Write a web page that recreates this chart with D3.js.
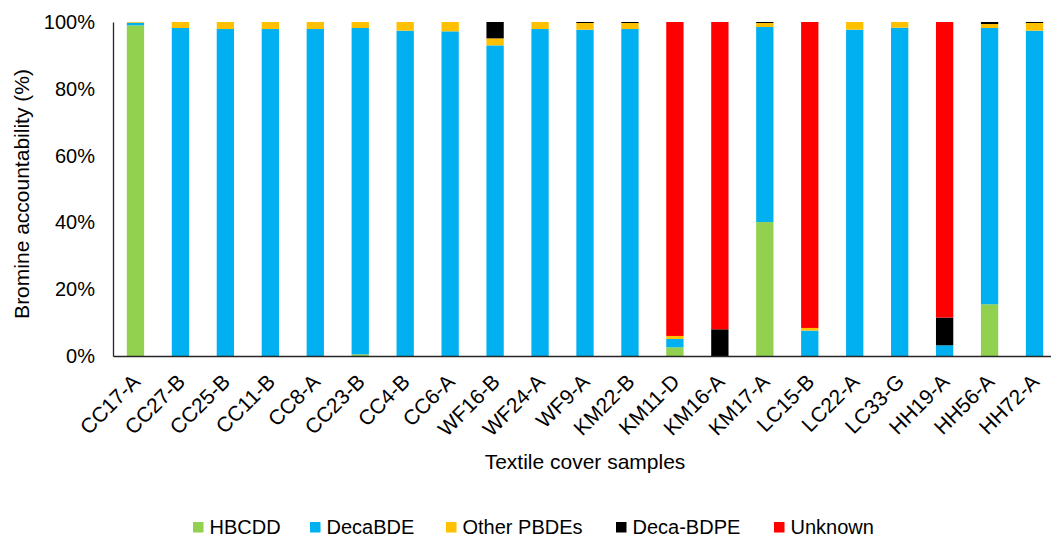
<!DOCTYPE html>
<html>
<head>
<meta charset="utf-8">
<script src="https://cdn.jsdelivr.net/npm/d3@7"></script>
<style>
  body { margin: 0; background: #fff; }
  text { font-family: "Liberation Sans", Arial, sans-serif; fill: #000; }
</style>
</head>
<body>
<div id="graf"></div>
<script>
// Datos (% de bromo)
const muestras = ["CC17-A", "CC27-B", "CC25-B", "CC11-B", "CC8-A", "CC23-B", "CC4-B", "CC6-A",
  "WF16-B", "WF24-A", "WF9-A", "KM22-B", "KM11-D", "KM16-A", "KM17-A", "LC15-B",
  "LC22-A", "LC33-G", "HH19-A", "HH56-A", "HH72-A"]
const hbcdd     = [99.0, 0, 0, 0, 0, 0.5, 0, 0, 0, 0, 0, 0, 2.6, 0, 40.1, 0, 0, 0, 0, 15.5, 0]
const decaBDE   = [0.8, 98.2, 97.9, 97.9, 97.9, 97.7, 97.4, 97.2, 93.0, 97.9, 97.7, 97.9, 2.5, 0, 58.4, 7.6, 97.7, 98.3, 3.2, 82.7, 97.4]
const otherPBDE = [0.2, 1.8, 2.1, 2.1, 2.1, 1.8, 2.6, 2.8, 2.1, 2.1, 2.0, 1.8, 0.9, 0, 1.2, 0.8, 2.3, 1.7, 0, 1.2, 2.3]
const decaBDPE  = [0, 0, 0, 0, 0, 0, 0, 0, 4.9, 0, 0.3, 0.3, 0, 8.0, 0.3, 0, 0, 0, 8.3, 0.6, 0.3]
const unknown   = [0, 0, 0, 0, 0, 0, 0, 0, 0, 0, 0, 0, 94.0, 92.0, 0, 91.6, 0, 0, 88.5, 0, 0]
const series = ["HBCDD", "DecaBDE", "Other PBDEs", "Deca-BDPE", "Unknown"]
const yTicks = [0, 0.2, 0.4, 0.6, 0.8, 1]

const data = muestras.map((m, i) => ({
  muestra: m,
  "HBCDD": hbcdd[i],
  "DecaBDE": decaBDE[i],
  "Other PBDEs": otherPBDE[i],
  "Deca-BDPE": decaBDPE[i],
  "Unknown": unknown[i],
}))

// Dimensiones
const anchoTotal = 1051
const altoTotal = 537
const margins = { top: 22, right: -6, bottom: 181, left: 113 }
const ancho = anchoTotal - margins.left - margins.right
const alto = altoTotal - margins.top - margins.bottom

const svg = d3.select("#graf").append("svg")
  .attr("width", anchoTotal)
  .attr("height", altoTotal)

const g = svg.append("g")
  .attr("transform", `translate(${margins.left}, ${margins.top})`)

// Escaladores
const x = d3.scaleBand()
  .domain(muestras)
  .range([0, ancho])
  .paddingInner(0.615)
  .paddingOuter(0.3075)

const y = d3.scaleLinear()
  .domain([0, 1])
  .range([alto, 0])

const color = d3.scaleOrdinal()
  .domain(series)
  .range(["#92D050", "#00B0F0", "#FFC000", "#000000", "#FF0000"])

const stack = d3.stack().keys(series)
  .value((d, k) => d[k] / 100)
const capas = stack(data)

// Barras
g.selectAll("g.capa")
  .data(capas)
  .enter()
  .append("g")
  .attr("class", "capa")
  .attr("fill", d => color(d.key))
  .selectAll("rect")
  .data(d => d)
  .enter()
  .append("rect")
  .attr("x", d => x(d.data.muestra))
  .attr("y", d => y(d[1]))
  .attr("width", x.bandwidth())
  .attr("height", d => y(d[0]) - y(d[1]))

// Eje y
const yAxis = d3.axisLeft(y)
  .tickValues(yTicks)
  .tickFormat(d3.format(".0%"))
  .tickSize(0)
  .tickPadding(18)
const yAxisGroup = g.append("g").call(yAxis)
yAxisGroup.select(".domain").attr("stroke", "#262626").attr("stroke-width", 1.3)
yAxisGroup.selectAll("text").style("font-size", "20px").attr("fill", "#000")

// Eje x
const xAxis = d3.axisBottom(x).tickSize(0).tickFormat("")
const xAxisGroup = g.append("g")
  .attr("transform", `translate(0, ${alto})`)
  .call(xAxis)
xAxisGroup.select(".domain").attr("stroke", "#262626").attr("stroke-width", 1.6)

g.selectAll("text.xlabel")
  .data(muestras)
  .enter()
  .append("text")
  .attr("class", "xlabel")
  .attr("text-anchor", "end")
  .attr("transform", d => `translate(${x(d) + x.bandwidth() / 2 + 6}, ${alto + 27}) rotate(-45)`)
  .style("font-size", "21px")
  .text(d => d)

// Titulos de ejes
svg.append("text")
  .attr("transform", `translate(29, ${margins.top + alto / 2 + 5}) rotate(-90)`)
  .attr("text-anchor", "middle")
  .style("font-size", "21px")
  .text("Bromine accountability (%)")

svg.append("text")
  .attr("x", 585)
  .attr("y", 469)
  .attr("text-anchor", "middle")
  .style("font-size", "21px")
  .text("Textile cover samples")

// Leyenda
const leyendaX = [193, 310, 446, 616, 774]
const leyenda = svg.selectAll("g.leyenda")
  .data(series)
  .enter()
  .append("g")
  .attr("class", "leyenda")
  .attr("transform", (d, i) => `translate(${leyendaX[i]}, 527)`)

leyenda.append("rect")
  .attr("x", 0)
  .attr("y", -5)
  .attr("width", 10.5)
  .attr("height", 10.5)
  .attr("fill", d => color(d))

leyenda.append("text")
  .attr("x", 16.5)
  .attr("dy", "0.35em")
  .style("font-size", "20px")
  .text(d => d)
</script>
</body>
</html>
